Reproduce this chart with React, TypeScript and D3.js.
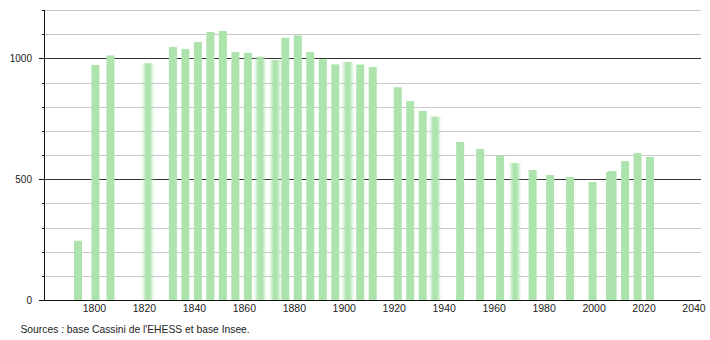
import React from "react";
import * as d3 from "d3";

const years = [1793, 1800, 1806, 1821, 1831, 1836, 1841, 1846, 1851, 1856, 1861, 1866, 1872, 1876, 1881, 1886, 1891, 1896, 1901, 1906, 1911, 1921, 1926, 1931, 1936, 1946, 1954, 1962, 1968, 1975, 1982, 1990, 1999, 2006, 2007, 2012, 2017, 2022];
const population = [245, 972, 1012, 980, 1047, 1039, 1068, 1109, 1113, 1026, 1023, 1007, 993, 1085, 1095, 1026, 996, 975, 985, 974, 964, 880, 823, 782, 759, 654, 625, 597, 567, 538, 517, 509, 488, 530, 534, 575, 608, 592];
const blurredYears = [1821, 1866, 1872, 1901, 1936, 1968];
const xTickYears = [1800, 1820, 1840, 1860, 1880, 1900, 1920, 1940, 1960, 1980, 2000, 2020, 2040];
const yLabelValues = [0, 500, 1000];
const yGridValues = [100, 200, 300, 400, 600, 700, 800, 900, 1100, 1200];
const sourceText = "Sources : base Cassini de l'EHESS et base Insee.";

const W = 710;
const H = 340;
const left = 44;
const right = 701;
const top = 10;
const bottom = 300;

export default function App() {
  const x = d3.scaleLinear().domain([1780, 2043]).range([left, right]);
  const y = d3.scaleLinear().domain([0, 1200]).range([bottom, top]);
  const font = "'Liberation Sans', Arial, sans-serif";
  const barW = 8;
  return (
    <svg width={W} height={H} style={{ position: "absolute", left: 0, top: 0, background: "#fff" }}>
      <defs>
        <filter id="blur" x="-60%" y="0%" width="220%" height="100%">
          <feGaussianBlur stdDeviation="1.4 0" />
        </filter>
      </defs>
      <rect x={0} y={0} width={W} height={H} fill="#fff" />
      {yGridValues.map((v) => (
        <line key={"g" + v} x1={left} x2={right} y1={Math.round(y(v)) + 0.5} y2={Math.round(y(v)) + 0.5} stroke="#c8c8c8" strokeWidth={1} />
      ))}
      {[500, 1000].map((v) => (
        <line key={"m" + v} x1={left} x2={right} y1={Math.round(y(v)) + 0.5} y2={Math.round(y(v)) + 0.5} stroke="#333" strokeWidth={1} />
      ))}
      {years.map((yr, i) => (
        <rect
          key={yr}
          x={x(yr) - 2.5}
          y={y(population[i])}
          width={barW}
          height={y(0) - y(population[i])}
          fill="#ade3ad"
          filter={blurredYears.includes(yr) ? "url(#blur)" : undefined}
        />
      ))}
      <line x1={left + 0.5} x2={left + 0.5} y1={top} y2={bottom} stroke="#111" strokeWidth={1} />
      <line x1={39} x2={right} y1={bottom + 0.5} y2={bottom + 0.5} stroke="#111" strokeWidth={1} />
      {d3.range(100, 1300, 100).map((v) => (
        <line key={"t" + v} x1={v % 500 === 0 ? 39 : 42} x2={left} y1={Math.round(y(v)) + 0.5} y2={Math.round(y(v)) + 0.5} stroke="#111" strokeWidth={1} />
      ))}
      {yLabelValues.map((v) => (
        <text key={"yl" + v} x={32} y={y(v)} dy="0.35em" textAnchor="end" fontFamily={font} fontSize={10} fill="#222">
          {v}
        </text>
      ))}
      {xTickYears.map((yr) => (
        <text key={"xl" + yr} x={x(yr) + 0.5} y={312} textAnchor="middle" fontFamily={font} fontSize={10.5} fill="#222">
          {yr}
        </text>
      ))}
      <text x={20.5} y={333} fontFamily={font} fontSize={10.3} fill="#222">
        {sourceText}
      </text>
    </svg>
  );
}
